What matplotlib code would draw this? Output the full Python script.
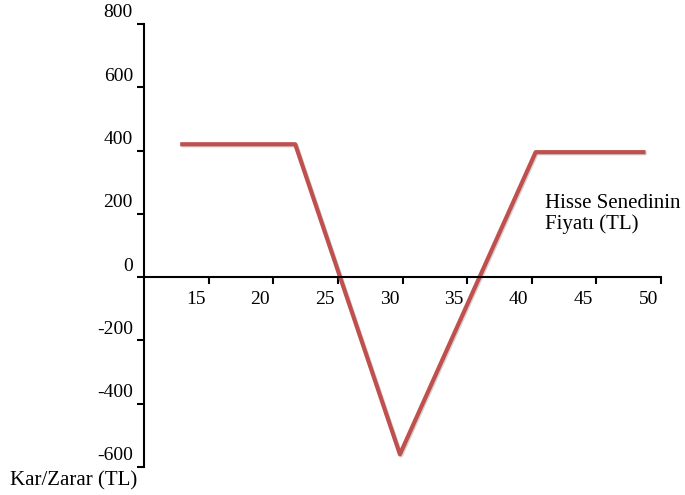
import matplotlib.pyplot as plt
import matplotlib.patheffects as pe

# hisse senedi fiyatı (TL) ve kar/zarar (TL)
fiyat = [12.8, 21.7, 29.8, 40.3, 48.8]
kar_zarar = [420, 420, -560, 395, 395]

x_ticks = [15, 20, 25, 30, 35, 40, 45, 50]
y_ticks = [-600, -400, -200, 0, 200, 400, 600, 800]

plt.rcParams['font.family'] = ['Liberation Serif', 'DejaVu Serif']

fig = plt.figure(figsize=(6.85, 4.95), dpi=100)
ax = fig.add_axes([0.2102, 0.0566, 0.7548, 0.8949])

ax.plot(fiyat, kar_zarar, color='#C0504D', linewidth=3, solid_capstyle='butt',
        path_effects=[pe.SimpleLineShadow(offset=(0.8, -0.8), shadow_color='gray', alpha=0.35),
                      pe.Normal()])

ax.set_xlim(10, 50)
ax.set_ylim(-600, 800)

ax.spines['top'].set_visible(False)
ax.spines['right'].set_visible(False)
ax.spines['left'].set_position(('data', 10))
ax.spines['bottom'].set_position(('data', 0))
ax.spines['left'].set_linewidth(1.5)
ax.spines['bottom'].set_linewidth(1.5)

ax.set_xticks(x_ticks)
ax.set_yticks(y_ticks)
ax.set_xticklabels([])
ax.set_yticklabels([])
ax.tick_params(axis='both', direction='out', length=5, width=1.5)

# tick etiketleri (Excel tarzı kaydırılmış)
for v in y_ticks:
    ax.annotate(str(v), xy=(10, v), xytext=(-8, 8), textcoords='offset points',
                ha='right', va='center', fontsize=14)
for v in x_ticks:
    ax.annotate(str(v), xy=(v - 1, 0), xytext=(0, -16), textcoords='offset points',
                ha='center', va='center', fontsize=14)

fig.text(10 / 685, 1 - 481 / 495, 'Kar/Zarar (TL)', ha='left', va='center', fontsize=15)
fig.text(545 / 685, 1 - 214 / 495, 'Hisse Senedinin\nFiyatı (TL)', ha='left', va='center',
         fontsize=15, linespacing=1.1)

fig.savefig('out.png', dpi=100)
